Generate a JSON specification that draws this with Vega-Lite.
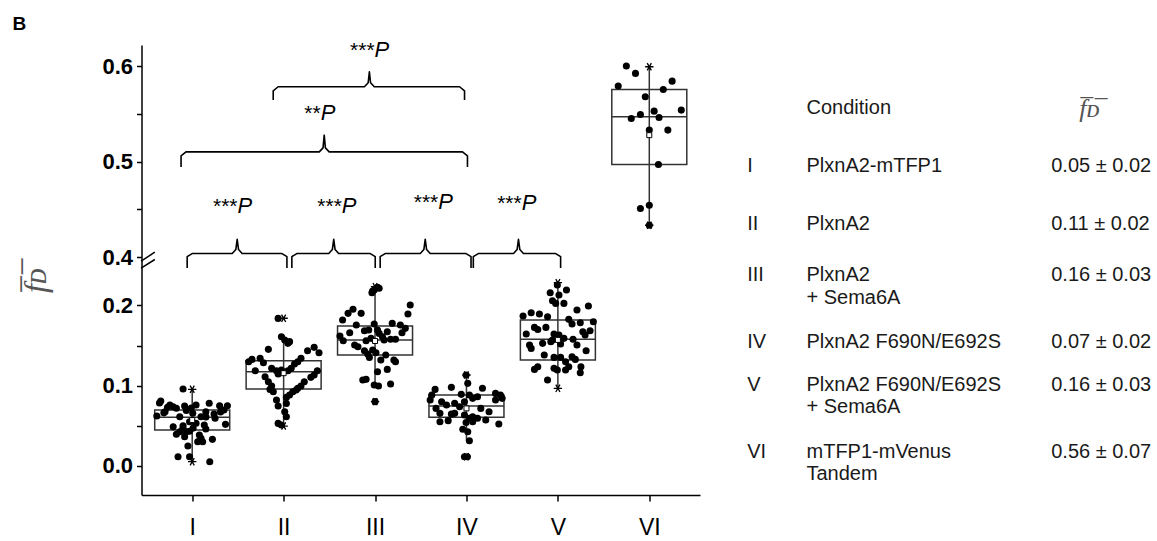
{
  "$schema": "https://vega.github.io/schema/vega-lite/v6.json",
  "autosize": {"type": "pad"},
  "padding": {"left": 12.5, "top": 14, "right": 0, "bottom": 0},
  "background": "white",
  "title": {"text": "B", "anchor": "start", "frame": "group", "dx": -129, "offset": 5, "font": "Liberation Sans", "fontSize": 19, "fontWeight": "bold", "color": "black"},
  "config": {
    "view": {"stroke": null},
    "axis": {"grid": false, "domainColor": "black", "tickColor": "black", "domainWidth": 1.5, "tickWidth": 1.5}
  },
  "bounds": "flush",
  "spacing": 0,
  "datasets": {
    "stats": [
      {"g": "I", "x": 1, "q1": 0.0446, "med": 0.0605, "q3": 0.0696, "wlo": 0.0051, "whi": 0.0954, "mean": 0.057},
      {"g": "II", "x": 2, "q1": 0.0958, "med": 0.1173, "q3": 0.131, "wlo": 0.0496, "whi": 0.163, "mean": 0.1155},
      {"g": "III", "x": 3, "q1": 0.1382, "med": 0.1569, "q3": 0.1743, "wlo": 0.0986, "whi": 0.2233, "mean": 0.1556},
      {"g": "IV", "x": 4, "q1": 0.0604, "med": 0.0746, "q3": 0.0883, "wlo": 0.0313, "whi": 0.1132, "mean": 0.0716},
      {"g": "V", "x": 5, "q1": 0.1319, "med": 0.1577, "q3": 0.1818, "wlo": 0.0966, "whi": 0.2283, "mean": 0.157},
      {"g": "VI", "x": 6, "q1": 0.497, "med": 0.547, "q3": 0.5758, "wlo": 0.4333, "whi": 0.5996, "mean": 0.5278}
    ],
    "ext": [
      {"x": 1, "y": 0.0954}, {"x": 1, "y": 0.0051},
      {"x": 2, "y": 0.184}, {"x": 2, "y": 0.0496},
      {"x": 3, "y": 0.2233}, {"x": 3, "y": 0.080},
      {"x": 4, "y": 0.1132}, {"x": 4, "y": 0.0114},
      {"x": 5, "y": 0.2283}, {"x": 5, "y": 0.0966},
      {"x": 6, "y": 0.5996}, {"x": 6, "y": 0.4333}
    ],
    "pts": [
      {"x": 0.90, "y": 0.0958}, {"x": 0.656, "y": 0.0808}, {"x": 0.642, "y": 0.0783}, {"x": 0.756, "y": 0.0758}, {"x": 0.792, "y": 0.0737}, {"x": 0.827, "y": 0.0717}, {"x": 0.917, "y": 0.0746}, {"x": 1.042, "y": 0.0758}, {"x": 1.186, "y": 0.0779}, {"x": 1.30, "y": 0.0749}, {"x": 1.385, "y": 0.0749}, {"x": 1.347, "y": 0.0696}, {"x": 0.613, "y": 0.0621}, {"x": 0.703, "y": 0.0675}, {"x": 0.864, "y": 0.0612}, {"x": 1.006, "y": 0.0655}, {"x": 1.096, "y": 0.0612}, {"x": 1.149, "y": 0.0675}, {"x": 1.239, "y": 0.0646}, {"x": 1.25, "y": 0.0592}, {"x": 0.971, "y": 0.055}, {"x": 1.042, "y": 0.053}, {"x": 1.364, "y": 0.0517}, {"x": 0.792, "y": 0.0488}, {"x": 0.899, "y": 0.0468}, {"x": 0.935, "y": 0.0425}, {"x": 1.132, "y": 0.0509}, {"x": 1.149, "y": 0.0459}, {"x": 0.827, "y": 0.0393}, {"x": 0.864, "y": 0.0425}, {"x": 0.917, "y": 0.0363}, {"x": 1.078, "y": 0.0384}, {"x": 1.096, "y": 0.0343}, {"x": 1.06, "y": 0.030}, {"x": 1.221, "y": 0.033}, {"x": 1.114, "y": 0.030}, {"x": 0.953, "y": 0.0247}, {"x": 0.845, "y": 0.0113}, {"x": 0.971, "y": 0.0113}, {"x": 1.192, "y": 0.0051}, {"x": 0.73, "y": 0.073}, {"x": 0.99, "y": 0.072}, {"x": 1.31, "y": 0.067}, {"x": 0.69, "y": 0.066}, {"x": 0.935, "y": 0.069}, {"x": 1.15, "y": 0.061}, {"x": 0.9, "y": 0.05}, {"x": 1.01, "y": 0.047}, {"x": 0.97, "y": 0.043},
      {"x": 1.940, "y": 0.1838}, {"x": 1.976, "y": 0.161}, {"x": 2.012, "y": 0.1568}, {"x": 2.047, "y": 0.1527}, {"x": 2.065, "y": 0.1548}, {"x": 1.833, "y": 0.1452}, {"x": 2.262, "y": 0.1435}, {"x": 2.334, "y": 0.1477}, {"x": 2.387, "y": 0.141}, {"x": 1.654, "y": 0.1327}, {"x": 1.618, "y": 0.1298}, {"x": 1.743, "y": 0.134}, {"x": 1.779, "y": 0.1286}, {"x": 2.19, "y": 0.134}, {"x": 2.155, "y": 0.1298}, {"x": 2.119, "y": 0.1269}, {"x": 1.69, "y": 0.1186}, {"x": 1.869, "y": 0.1215}, {"x": 1.922, "y": 0.1186}, {"x": 1.976, "y": 0.1194}, {"x": 2.047, "y": 0.1186}, {"x": 2.083, "y": 0.1215}, {"x": 2.369, "y": 0.1186}, {"x": 1.797, "y": 0.1111}, {"x": 1.94, "y": 0.1144}, {"x": 2.334, "y": 0.1132}, {"x": 2.298, "y": 0.1103}, {"x": 1.833, "y": 0.1049}, {"x": 2.226, "y": 0.1049}, {"x": 1.869, "y": 0.0995}, {"x": 1.851, "y": 0.0953}, {"x": 1.887, "y": 0.0924}, {"x": 2.19, "y": 0.0995}, {"x": 2.155, "y": 0.0966}, {"x": 2.101, "y": 0.0924}, {"x": 2.065, "y": 0.0882}, {"x": 2.03, "y": 0.0853}, {"x": 2.137, "y": 0.0945}, {"x": 1.922, "y": 0.0820}, {"x": 1.94, "y": 0.0745}, {"x": 2.03, "y": 0.0778}, {"x": 2.012, "y": 0.0674}, {"x": 2.03, "y": 0.0612}, {"x": 1.94, "y": 0.0529}, {"x": 1.976, "y": 0.0508},
      {"x": 2.966, "y": 0.2158}, {"x": 2.991, "y": 0.2191}, {"x": 3.027, "y": 0.2225}, {"x": 3.045, "y": 0.2213}, {"x": 2.973, "y": 0.2179}, {"x": 3.385, "y": 0.2005}, {"x": 3.36, "y": 0.1892}, {"x": 2.759, "y": 0.1951}, {"x": 2.705, "y": 0.1901}, {"x": 2.848, "y": 0.1901}, {"x": 2.645, "y": 0.1818}, {"x": 2.795, "y": 0.1755}, {"x": 2.991, "y": 0.1768}, {"x": 3.188, "y": 0.1776}, {"x": 3.277, "y": 0.1755}, {"x": 3.331, "y": 0.1714}, {"x": 3.295, "y": 0.166}, {"x": 2.884, "y": 0.1685}, {"x": 2.931, "y": 0.1693}, {"x": 3.027, "y": 0.1693}, {"x": 3.045, "y": 0.1651}, {"x": 3.134, "y": 0.1672}, {"x": 2.723, "y": 0.166}, {"x": 2.616, "y": 0.1618}, {"x": 2.652, "y": 0.156}, {"x": 2.902, "y": 0.156}, {"x": 2.956, "y": 0.1589}, {"x": 3.081, "y": 0.161}, {"x": 3.099, "y": 0.1568}, {"x": 3.17, "y": 0.1577}, {"x": 3.224, "y": 0.1577}, {"x": 2.777, "y": 0.1506}, {"x": 2.813, "y": 0.1485}, {"x": 2.884, "y": 0.1435}, {"x": 2.974, "y": 0.1443}, {"x": 3.01, "y": 0.1410}, {"x": 2.92, "y": 0.1394}, {"x": 3.117, "y": 0.1381}, {"x": 2.938, "y": 0.1352}, {"x": 3.063, "y": 0.1319}, {"x": 3.206, "y": 0.1319}, {"x": 3.224, "y": 0.1298}, {"x": 3.134, "y": 0.1202}, {"x": 3.027, "y": 0.1173}, {"x": 2.866, "y": 0.1069}, {"x": 2.902, "y": 0.1078}, {"x": 2.991, "y": 0.1007}, {"x": 3.038, "y": 0.0995}, {"x": 3.17, "y": 0.102}, {"x": 3.0, "y": 0.080},
      {"x": 3.996, "y": 0.1132}, {"x": 4.014, "y": 0.1028}, {"x": 3.657, "y": 0.0953}, {"x": 3.835, "y": 0.0978}, {"x": 4.175, "y": 0.0966}, {"x": 4.318, "y": 0.0903}, {"x": 4.372, "y": 0.0883}, {"x": 3.621, "y": 0.0883}, {"x": 3.943, "y": 0.0891}, {"x": 4.032, "y": 0.0883}, {"x": 4.121, "y": 0.0862}, {"x": 3.603, "y": 0.082}, {"x": 3.728, "y": 0.0799}, {"x": 3.871, "y": 0.0779}, {"x": 3.978, "y": 0.0799}, {"x": 4.068, "y": 0.0841}, {"x": 4.318, "y": 0.082}, {"x": 4.39, "y": 0.0841}, {"x": 3.667, "y": 0.0716}, {"x": 3.782, "y": 0.0758}, {"x": 3.925, "y": 0.0737}, {"x": 4.157, "y": 0.0716}, {"x": 3.71, "y": 0.0654}, {"x": 3.871, "y": 0.0654}, {"x": 4.247, "y": 0.0675}, {"x": 3.978, "y": 0.0633}, {"x": 4.068, "y": 0.0612}, {"x": 3.835, "y": 0.0645}, {"x": 3.71, "y": 0.055}, {"x": 3.8, "y": 0.0563}, {"x": 4.032, "y": 0.0592}, {"x": 4.121, "y": 0.0592}, {"x": 4.211, "y": 0.0571}, {"x": 4.354, "y": 0.0521}, {"x": 3.996, "y": 0.054}, {"x": 4.068, "y": 0.055}, {"x": 3.96, "y": 0.0455}, {"x": 4.014, "y": 0.0425}, {"x": 4.032, "y": 0.0313}, {"x": 3.978, "y": 0.0114}, {"x": 4.01, "y": 0.0114},
      {"x": 4.994, "y": 0.2254}, {"x": 4.916, "y": 0.2158}, {"x": 5.012, "y": 0.2129}, {"x": 5.094, "y": 0.2192}, {"x": 4.941, "y": 0.2059}, {"x": 4.976, "y": 0.2025}, {"x": 5.066, "y": 0.2025}, {"x": 5.334, "y": 0.1992}, {"x": 5.209, "y": 0.1942}, {"x": 4.619, "y": 0.1867}, {"x": 4.708, "y": 0.1909}, {"x": 4.798, "y": 0.1892}, {"x": 4.887, "y": 0.1859}, {"x": 5.119, "y": 0.1826}, {"x": 5.245, "y": 0.1784}, {"x": 5.388, "y": 0.1797}, {"x": 5.155, "y": 0.1768}, {"x": 4.744, "y": 0.1726}, {"x": 4.78, "y": 0.17}, {"x": 4.869, "y": 0.1726}, {"x": 5.273, "y": 0.1672}, {"x": 5.352, "y": 0.1685}, {"x": 4.654, "y": 0.1643}, {"x": 4.958, "y": 0.1643}, {"x": 5.012, "y": 0.1631}, {"x": 5.066, "y": 0.1589}, {"x": 4.941, "y": 0.1568}, {"x": 5.166, "y": 0.1577}, {"x": 5.298, "y": 0.1631}, {"x": 4.833, "y": 0.1527}, {"x": 4.923, "y": 0.1547}, {"x": 4.69, "y": 0.1506}, {"x": 4.708, "y": 0.1464}, {"x": 5.03, "y": 0.1518}, {"x": 5.209, "y": 0.1506}, {"x": 5.309, "y": 0.1435}, {"x": 4.851, "y": 0.1381}, {"x": 4.958, "y": 0.1352}, {"x": 5.03, "y": 0.1352}, {"x": 5.155, "y": 0.136}, {"x": 5.191, "y": 0.1327}, {"x": 5.084, "y": 0.1298}, {"x": 4.78, "y": 0.1236}, {"x": 4.744, "y": 0.1202}, {"x": 4.958, "y": 0.1215}, {"x": 4.994, "y": 0.1194}, {"x": 5.119, "y": 0.1236}, {"x": 5.084, "y": 0.1194}, {"x": 5.252, "y": 0.1236}, {"x": 5.245, "y": 0.1161}, {"x": 4.887, "y": 0.1069},
      {"x": 5.749, "y": 0.6003}, {"x": 5.849, "y": 0.5926}, {"x": 6.25, "y": 0.5845}, {"x": 5.66, "y": 0.5793}, {"x": 6.153, "y": 0.5758}, {"x": 5.956, "y": 0.5681}, {"x": 6.35, "y": 0.5541}, {"x": 5.803, "y": 0.5453}, {"x": 5.903, "y": 0.5495}, {"x": 6.053, "y": 0.553}, {"x": 6.107, "y": 0.5464}, {"x": 6.0, "y": 0.5331}, {"x": 6.203, "y": 0.5331}, {"x": 6.1, "y": 0.497}, {"x": 6.0, "y": 0.4543}, {"x": 5.903, "y": 0.4508}, {"x": 6.0, "y": 0.4333}
    ],
    "brackets": [
      {"b": "t", "o": 1, "x": 1.886, "y": 0.5646}, {"b": "t", "o": 2, "x": 1.886, "y": 0.5744}, {"b": "t", "o": 3, "x": 1.940, "y": 0.5786}, {"b": "t", "o": 4, "x": 2.884, "y": 0.5786}, {"b": "t", "o": 5, "x": 2.925, "y": 0.5828}, {"b": "t", "o": 6, "x": 2.938, "y": 0.5943}, {"b": "t", "o": 7, "x": 2.951, "y": 0.5828}, {"b": "t", "o": 8, "x": 2.992, "y": 0.5786}, {"b": "t", "o": 9, "x": 3.925, "y": 0.5786}, {"b": "t", "o": 10, "x": 3.979, "y": 0.5744}, {"b": "t", "o": 11, "x": 3.979, "y": 0.5646},
      {"b": "s", "o": 1, "x": 0.878, "y": 0.4945}, {"b": "s", "o": 2, "x": 0.878, "y": 0.5061}, {"b": "s", "o": 3, "x": 0.932, "y": 0.5103}, {"b": "s", "o": 4, "x": 2.390, "y": 0.5103}, {"b": "s", "o": 5, "x": 2.431, "y": 0.5145}, {"b": "s", "o": 6, "x": 2.444, "y": 0.5278}, {"b": "s", "o": 7, "x": 2.457, "y": 0.5145}, {"b": "s", "o": 8, "x": 2.498, "y": 0.5103}, {"b": "s", "o": 9, "x": 3.957, "y": 0.5103}, {"b": "s", "o": 10, "x": 4.011, "y": 0.5061}, {"b": "s", "o": 11, "x": 4.011, "y": 0.4945},
      {"b": "b1", "o": 1, "x": 0.945, "y": 0.2466}, {"b": "b1", "o": 2, "x": 0.945, "y": 0.4004}, {"b": "b1", "o": 3, "x": 0.999, "y": 0.4036}, {"b": "b1", "o": 4, "x": 1.438, "y": 0.4036}, {"b": "b1", "o": 5, "x": 1.477, "y": 0.4078}, {"b": "b1", "o": 6, "x": 1.492, "y": 0.4186}, {"b": "b1", "o": 7, "x": 1.507, "y": 0.4078}, {"b": "b1", "o": 8, "x": 1.546, "y": 0.4036}, {"b": "b1", "o": 9, "x": 1.982, "y": 0.4036}, {"b": "b1", "o": 10, "x": 2.036, "y": 0.4004}, {"b": "b1", "o": 11, "x": 2.036, "y": 0.2466},
      {"b": "b2", "o": 1, "x": 2.090, "y": 0.2466}, {"b": "b2", "o": 2, "x": 2.090, "y": 0.4004}, {"b": "b2", "o": 3, "x": 2.144, "y": 0.4036}, {"b": "b2", "o": 4, "x": 2.494, "y": 0.4036}, {"b": "b2", "o": 5, "x": 2.533, "y": 0.4078}, {"b": "b2", "o": 6, "x": 2.548, "y": 0.4186}, {"b": "b2", "o": 7, "x": 2.563, "y": 0.4078}, {"b": "b2", "o": 8, "x": 2.602, "y": 0.4036}, {"b": "b2", "o": 9, "x": 2.948, "y": 0.4036}, {"b": "b2", "o": 10, "x": 3.002, "y": 0.4004}, {"b": "b2", "o": 11, "x": 3.002, "y": 0.2466},
      {"b": "b3", "o": 1, "x": 3.056, "y": 0.2466}, {"b": "b3", "o": 2, "x": 3.056, "y": 0.4004}, {"b": "b3", "o": 3, "x": 3.110, "y": 0.4036}, {"b": "b3", "o": 4, "x": 3.495, "y": 0.4036}, {"b": "b3", "o": 5, "x": 3.534, "y": 0.4078}, {"b": "b3", "o": 6, "x": 3.549, "y": 0.4186}, {"b": "b3", "o": 7, "x": 3.564, "y": 0.4078}, {"b": "b3", "o": 8, "x": 3.603, "y": 0.4036}, {"b": "b3", "o": 9, "x": 3.996, "y": 0.4036}, {"b": "b3", "o": 10, "x": 4.050, "y": 0.4004}, {"b": "b3", "o": 11, "x": 4.050, "y": 0.2466},
      {"b": "b4", "o": 1, "x": 4.075, "y": 0.2466}, {"b": "b4", "o": 2, "x": 4.075, "y": 0.4004}, {"b": "b4", "o": 3, "x": 4.129, "y": 0.4036}, {"b": "b4", "o": 4, "x": 4.515, "y": 0.4036}, {"b": "b4", "o": 5, "x": 4.554, "y": 0.4078}, {"b": "b4", "o": 6, "x": 4.569, "y": 0.4186}, {"b": "b4", "o": 7, "x": 4.584, "y": 0.4078}, {"b": "b4", "o": 8, "x": 4.623, "y": 0.4036}, {"b": "b4", "o": 9, "x": 4.976, "y": 0.4036}, {"b": "b4", "o": 10, "x": 5.030, "y": 0.4004}, {"b": "b4", "o": 11, "x": 5.030, "y": 0.2466}
    ],
    "sig": [
      {"x": 2.995, "y": 0.6101, "s": "***"},
      {"x": 2.405, "y": 0.5436, "s": "**"},
      {"x": 1.496, "y": 0.4462, "s": "***"},
      {"x": 2.637, "y": 0.4462, "s": "***"},
      {"x": 3.692, "y": 0.4508, "s": "***"},
      {"x": 4.604, "y": 0.449, "s": "***"}
    ],
    "brk": [
      {"x": 0.441, "y": 0.300, "x2": 0.591, "y2": 0.405},
      {"x": 0.441, "y": 0.2466, "x2": 0.591, "y2": 0.3377}
    ],
    "table": [
      {"c": 2, "r": 0, "t": "Condition"},
      {"c": 1, "r": 1, "t": "I"}, {"c": 2, "r": 1, "t": "PlxnA2-mTFP1"}, {"c": 3, "r": 1, "t": "0.05 ± 0.02"},
      {"c": 1, "r": 2, "t": "II"}, {"c": 2, "r": 2, "t": "PlxnA2"}, {"c": 3, "r": 2, "t": "0.11 ± 0.02"},
      {"c": 1, "r": 3, "t": "III"}, {"c": 2, "r": 3, "t": "PlxnA2\n+ Sema6A"}, {"c": 3, "r": 3, "t": "0.16 ± 0.03"},
      {"c": 1, "r": 4, "t": "IV"}, {"c": 2, "r": 4, "t": "PlxnA2 F690N/E692S"}, {"c": 3, "r": 4, "t": "0.07 ± 0.02"},
      {"c": 1, "r": 5, "t": "V"}, {"c": 2, "r": 5, "t": "PlxnA2 F690N/E692S\n+ Sema6A"}, {"c": 3, "r": 5, "t": "0.16 ± 0.03"},
      {"c": 1, "r": 6, "t": "VI"}, {"c": 2, "r": 6, "t": "mTFP1-mVenus\nTandem"}, {"c": 3, "r": 6, "t": "0.56 ± 0.07"}
    ],
    "thead": [
      {"c": 4, "r": 0, "t": "f̅ᴅ̅"}
    ]
  },
  "hconcat": [
    {
      "width": 558.5,
      "height": 450,
      "layer": [
        {
          "data": {"name": "stats"},
          "mark": {"type": "rule", "color": "#333", "strokeWidth": 1.5},
          "encoding": {
            "x": {"field": "x", "type": "quantitative", "scale": {"domain": [0.5, 6.5], "nice": false, "zero": false},
              "axis": {"values": [1, 2, 3, 4, 5, 6], "labelExpr": "['','I','II','III','IV','V','VI'][datum.value]", "title": null, "tickSize": 6, "labelFont": "Liberation Sans", "labelFontSize": 23, "labelPadding": 15, "labelColor": "black", "labelFlush": false}},
            "y": {"field": "wlo", "type": "quantitative", "scale": {"domain": [-0.0364, 0.253, 0.4, 0.6224], "range": [450, 217.9, 212, 0], "nice": false, "zero": false},
              "axis": {"values": [0, 0.05, 0.1, 0.15, 0.2, 0.4, 0.45, 0.5, 0.55, 0.6], "labelExpr": "round(datum.value*100) % 10 == 0 ? format(datum.value, '.1f') : ''", "labelOverlap": false, "tickSize": 5, "labelFont": "Liberation Sans", "labelFontSize": 22, "labelFontWeight": "bold", "labelPadding": 4, "labelColor": "black",
                "title": "f̅ᴅ̅", "titleFont": "Liberation Serif", "titleFontStyle": "italic", "titleFontWeight": "normal", "titleFontSize": 32, "titleColor": "#555", "titleAngle": -90, "titleX": -106, "titleY": 235, "titleAlign": "center", "titleBaseline": "middle"}},
            "y2": {"field": "whi"}
          }
        },
        {
          "data": {"name": "stats"},
          "mark": {"type": "bar", "width": 75, "fill": "white", "fillOpacity": 0, "stroke": "#333", "strokeWidth": 1.5},
          "encoding": {
            "x": {"field": "x", "type": "quantitative", "scale": {"domain": [0.5, 6.5], "nice": false, "zero": false}},
            "y": {"field": "q1", "type": "quantitative", "scale": {"domain": [-0.0364, 0.253, 0.4, 0.6224], "range": [450, 217.9, 212, 0], "nice": false, "zero": false}},
            "y2": {"field": "q3"}
          }
        },
        {
          "data": {"name": "stats"},
          "mark": {"type": "tick", "orient": "horizontal", "size": 75, "thickness": 1.5, "color": "#333", "opacity": 1},
          "encoding": {
            "x": {"field": "x", "type": "quantitative", "scale": {"domain": [0.5, 6.5], "nice": false, "zero": false}},
            "y": {"field": "med", "type": "quantitative", "scale": {"domain": [-0.0364, 0.253, 0.4, 0.6224], "range": [450, 217.9, 212, 0], "nice": false, "zero": false}}
          }
        },
        {
          "data": {"name": "pts"},
          "mark": {"type": "circle", "size": 50, "color": "black", "opacity": 1},
          "encoding": {
            "x": {"field": "x", "type": "quantitative", "scale": {"domain": [0.5, 6.5], "nice": false, "zero": false}},
            "y": {"field": "y", "type": "quantitative", "scale": {"domain": [-0.0364, 0.253, 0.4, 0.6224], "range": [450, 217.9, 212, 0], "nice": false, "zero": false}}
          }
        },
        {
          "data": {"name": "ext"},
          "mark": {"type": "point", "shape": "M-1,0L1,0M-0.5,-0.87L0.5,0.87M-0.5,0.87L0.5,-0.87", "size": 70, "filled": false, "stroke": "black", "strokeWidth": 1.3, "opacity": 1},
          "encoding": {
            "x": {"field": "x", "type": "quantitative", "scale": {"domain": [0.5, 6.5], "nice": false, "zero": false}},
            "y": {"field": "y", "type": "quantitative", "scale": {"domain": [-0.0364, 0.253, 0.4, 0.6224], "range": [450, 217.9, 212, 0], "nice": false, "zero": false}}
          }
        },
        {
          "data": {"name": "stats"},
          "mark": {"type": "point", "shape": "square", "size": 25, "filled": true, "fill": "white", "stroke": "black", "strokeWidth": 1, "opacity": 1},
          "encoding": {
            "x": {"field": "x", "type": "quantitative", "scale": {"domain": [0.5, 6.5], "nice": false, "zero": false}},
            "y": {"field": "mean", "type": "quantitative", "scale": {"domain": [-0.0364, 0.253, 0.4, 0.6224], "range": [450, 217.9, 212, 0], "nice": false, "zero": false}}
          }
        },
        {
          "data": {"name": "brackets"},
          "mark": {"type": "line", "color": "black", "strokeWidth": 1.6, "strokeJoin": "round"},
          "encoding": {
            "x": {"field": "x", "type": "quantitative", "scale": {"domain": [0.5, 6.5], "nice": false, "zero": false}},
            "y": {"field": "y", "type": "quantitative", "scale": {"domain": [-0.0364, 0.253, 0.4, 0.6224], "range": [450, 217.9, 212, 0], "nice": false, "zero": false}},
            "detail": {"field": "b"},
            "order": {"field": "o", "type": "quantitative"}
          }
        },
        {
          "data": {"name": "sig"},
          "mark": {"type": "text", "align": "right", "baseline": "alphabetic", "font": "Liberation Sans", "fontSize": 21, "color": "black"},
          "encoding": {
            "x": {"field": "x", "type": "quantitative", "scale": {"domain": [0.5, 6.5], "nice": false, "zero": false}},
            "y": {"field": "y", "type": "quantitative", "scale": {"domain": [-0.0364, 0.253, 0.4, 0.6224], "range": [450, 217.9, 212, 0], "nice": false, "zero": false}},
            "text": {"field": "s"}
          }
        },
        {
          "data": {"name": "sig"},
          "mark": {"type": "text", "align": "left", "baseline": "alphabetic", "font": "Liberation Sans", "fontSize": 22, "fontStyle": "italic", "color": "black", "text": "P"},
          "encoding": {
            "x": {"field": "x", "type": "quantitative", "scale": {"domain": [0.5, 6.5], "nice": false, "zero": false}},
            "y": {"field": "y", "type": "quantitative", "scale": {"domain": [-0.0364, 0.253, 0.4, 0.6224], "range": [450, 217.9, 212, 0], "nice": false, "zero": false}}
          }
        },
        {
          "data": {"name": "brk"},
          "mark": {"type": "rule", "color": "black", "strokeWidth": 1.5},
          "encoding": {
            "x": {"field": "x", "type": "quantitative", "scale": {"domain": [0.5, 6.5], "nice": false, "zero": false}},
            "y": {"field": "y", "type": "quantitative", "scale": {"domain": [-0.0364, 0.253, 0.4, 0.6224], "range": [450, 217.9, 212, 0], "nice": false, "zero": false}},
            "x2": {"field": "x2"},
            "y2": {"field": "y2"}
          }
        }
      ]
    },
    {
      "width": 457,
      "height": 450,
      "layer": [
        {
          "data": {"name": "table"},
          "mark": {"type": "text", "align": "left", "baseline": "alphabetic", "font": "Liberation Sans", "fontSize": 20, "color": "#1a1a1a", "lineBreak": "\n", "lineHeight": 22.7},
          "encoding": {
            "x": {"field": "c", "type": "quantitative", "scale": {"domain": [1, 2, 3, 4], "range": [46.7, 106, 350.7, 389], "nice": false, "zero": false}, "axis": null},
            "y": {"field": "r", "type": "quantitative", "scale": {"domain": [0, 1, 2, 3, 4, 5, 6], "range": [69.3, 126.7, 185, 236, 303.3, 345.7, 412.7], "nice": false, "zero": false}, "axis": null},
            "text": {"field": "t"}
          }
        },
        {
          "data": {"name": "thead"},
          "mark": {"type": "text", "align": "center", "baseline": "alphabetic", "font": "Liberation Serif", "fontStyle": "italic", "fontSize": 26, "color": "#555", "dy": 3},
          "encoding": {
            "x": {"field": "c", "type": "quantitative", "scale": {"domain": [1, 2, 3, 4], "range": [46.7, 106, 350.7, 389], "nice": false, "zero": false}, "axis": null},
            "y": {"field": "r", "type": "quantitative", "scale": {"domain": [0, 1, 2, 3, 4, 5, 6], "range": [69.3, 126.7, 185, 236, 303.3, 345.7, 412.7], "nice": false, "zero": false}, "axis": null},
            "text": {"field": "t"}
          }
        }
      ]
    }
  ]
}
